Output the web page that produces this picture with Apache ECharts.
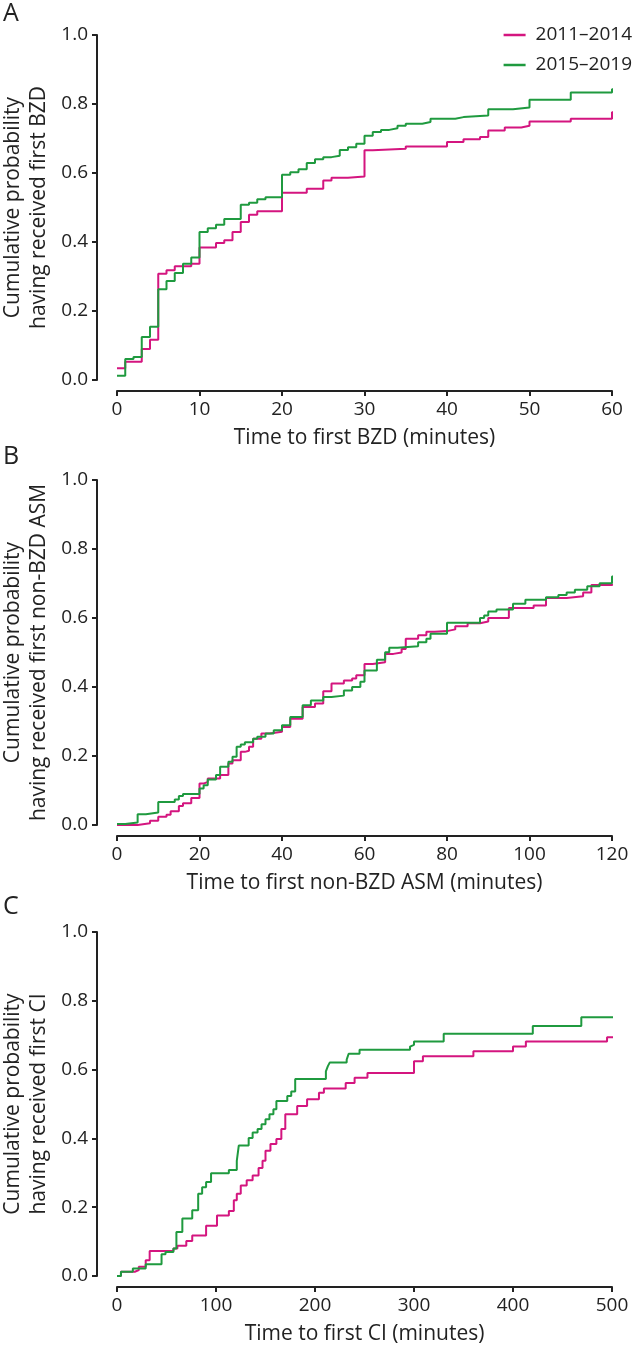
<!DOCTYPE html>
<html><head><meta charset="utf-8">
<script src="https://cdn.jsdelivr.net/npm/echarts@6/dist/echarts.min.js"></script>
<style>html,body{margin:0;padding:0;background:#fff}#c{width:634px;height:1347px}</style>
</head><body><div id="c"></div>
<script>
// ---------- DATA ----------
const seriesNames = ['2011–2014', '2015–2019'];
const panelLetters = ['A', 'B', 'C'];
const xAxisTitles = ['Time to first BZD (minutes)', 'Time to first non-BZD ASM (minutes)', 'Time to first CI (minutes)'];
const yAxisTitles = ['Cumulative probability\nhaving received first BZD',
                     'Cumulative probability\nhaving received first non-BZD ASM',
                     'Cumulative probability\nhaving received first CI'];
const xMaxes = [60, 120, 500];
const xIntervals = [10, 20, 100];
const yTicks = [0, 0.2, 0.4, 0.6, 0.8, 1.0];

// Panel A – time to first BZD
const aTime2011 = [0, 1, 3, 4, 5, 6, 7, 9, 10, 12, 13, 14, 15, 16, 17, 20, 23, 25, 26, 28, 30, 31, 35, 40, 42, 44, 45, 47, 49, 50, 55, 60, 61.2];
const aProb2011 = [0.034, 0.053, 0.09, 0.117, 0.308, 0.318, 0.33, 0.337, 0.384, 0.397, 0.405, 0.429, 0.458, 0.479, 0.489, 0.543, 0.554, 0.578, 0.586, 0.59, 0.666, 0.67, 0.677, 0.69, 0.698, 0.704, 0.723, 0.732, 0.737, 0.749, 0.757, 0.776, 0.776];
const aTime2015 = [0, 1, 2, 3, 4, 5, 6, 7, 8, 9, 10, 11, 12, 13, 15, 16, 17, 18, 20, 21, 22, 23, 24, 25, 26, 27, 28, 29, 30, 31, 32, 33, 34, 35, 37, 38, 41, 42, 45, 48, 50, 55, 60, 61.2];
const aProb2015 = [0.012, 0.061, 0.067, 0.125, 0.154, 0.263, 0.287, 0.31, 0.337, 0.355, 0.429, 0.44, 0.45, 0.467, 0.508, 0.514, 0.524, 0.53, 0.595, 0.602, 0.611, 0.629, 0.64, 0.646, 0.65, 0.667, 0.675, 0.685, 0.708, 0.719, 0.725, 0.73, 0.737, 0.743, 0.748, 0.757, 0.762, 0.767, 0.785, 0.79, 0.812, 0.833, 0.843, 0.843];

// Panel B – time to first non-BZD ASM
const bTime2011 = [0, 5, 8, 10, 12, 13, 15, 16, 18, 20, 21, 22, 25, 27, 28, 30, 31, 32, 33, 35, 37, 40, 42, 45, 48, 50, 52, 55, 57, 58, 60, 62, 65, 67, 69, 70, 73, 75, 77, 80, 82, 85, 88, 90, 95, 101, 104, 109, 113, 115, 120, 122.2];
const bProb2011 = [0.0, 0.005, 0.012, 0.024, 0.03, 0.04, 0.055, 0.063, 0.078, 0.12, 0.125, 0.135, 0.145, 0.178, 0.188, 0.212, 0.215, 0.227, 0.25, 0.265, 0.27, 0.284, 0.308, 0.342, 0.352, 0.388, 0.41, 0.419, 0.425, 0.434, 0.467, 0.472, 0.496, 0.5, 0.51, 0.54, 0.55, 0.56, 0.562, 0.567, 0.576, 0.585, 0.59, 0.6, 0.629, 0.636, 0.658, 0.663, 0.674, 0.696, 0.701, 0.701];
const bTime2015 = [0, 2, 5, 7, 10, 14, 15, 16, 20, 21, 22, 24, 25, 27, 28, 29, 30, 31, 33, 34, 36, 38, 40, 42, 45, 47, 50, 52, 55, 57, 59, 60, 63, 65, 66, 68, 73, 75, 76, 80, 88, 89, 90, 92, 96, 99, 104, 107, 109, 111, 114, 117, 120, 122.2];
const bProb2015 = [0.003, 0.007, 0.031, 0.036, 0.067, 0.074, 0.084, 0.09, 0.106, 0.115, 0.132, 0.145, 0.169, 0.183, 0.198, 0.227, 0.233, 0.24, 0.25, 0.256, 0.265, 0.275, 0.289, 0.313, 0.347, 0.361, 0.371, 0.375, 0.39, 0.4, 0.415, 0.448, 0.479, 0.501, 0.514, 0.518, 0.53, 0.54, 0.554, 0.586, 0.6, 0.607, 0.619, 0.625, 0.641, 0.653, 0.66, 0.667, 0.674, 0.682, 0.692, 0.701, 0.72, 0.72];

// Panel C – time to first CI
const cTime2011 = [0, 4, 18, 22, 29, 33, 57, 61, 70, 76, 90, 101, 113, 118, 121, 125, 131, 137, 143, 147, 150, 155, 161, 166, 170, 182, 192, 204, 209, 231, 240, 253, 300, 309, 360, 400, 413, 495, 509, 518, 519];
const cProb2011 = [0.0, 0.0125, 0.017, 0.027, 0.046, 0.073, 0.08, 0.088, 0.102, 0.118, 0.146, 0.176, 0.189, 0.22, 0.239, 0.263, 0.278, 0.292, 0.314, 0.335, 0.364, 0.384, 0.398, 0.427, 0.47, 0.494, 0.514, 0.533, 0.545, 0.561, 0.576, 0.59, 0.624, 0.639, 0.653, 0.667, 0.682, 0.694, 0.711, 0.723, 0.723];
const cTime2015 = [0, 4, 16, 29, 45, 49, 57, 60, 66, 76, 82, 86, 90, 95, 113, 121, 123, 133, 137, 142, 146, 150, 154, 158, 161, 172, 176, 180, 211, 213, 215, 232, 234, 245, 296, 298, 300, 330, 420, 469, 519];
const cProb2015 = [0.0, 0.0125, 0.022, 0.034, 0.063, 0.07, 0.08, 0.128, 0.167, 0.191, 0.239, 0.258, 0.273, 0.299, 0.308, 0.335, 0.379, 0.401, 0.417, 0.427, 0.441, 0.456, 0.47, 0.485, 0.509, 0.523, 0.536, 0.573, 0.595, 0.61, 0.621, 0.629, 0.646, 0.658, 0.667, 0.672, 0.682, 0.704, 0.727, 0.752, 0.752];

// ---------- CHART ----------
const FONT = 'Open Sans';
const INK = '#222';
const COLORS = ['#d4157f', '#1f9a3f'];
const gridTops = [35, 480, 932];
const gridHeights = [345, 345, 344];
const letterTops = [1, 444, 894];

const panels = [
  [[aTime2011, aProb2011], [aTime2015, aProb2015]],
  [[bTime2011, bProb2011], [bTime2015, bProb2015]],
  [[cTime2011, cProb2011], [cTime2015, cProb2015]]
];
const zip = (t, p) => t.map((x, i) => [x, p[i]]);

const grids = [], xAxes = [], yAxes = [], series = [], graphics = [];
panels.forEach((pan, k) => {
  grids.push({left: 117, width: 495, top: gridTops[k], height: gridHeights[k],
    containLabel: false, outerBoundsMode: 'none'});
  xAxes.push({
    gridIndex: k, type: 'value', min: 0, max: xMaxes[k], interval: xIntervals[k], offset: 11,
    axisLine: {show: true, onZero: false, lineStyle: {color: INK, width: 2}},
    axisTick: {show: true, inside: false, length: 5, lineStyle: {color: INK, width: 2}},
    axisLabel: {fontSize: 19, color: INK, fontFamily: FONT, margin: 9},
    splitLine: {show: false},
    name: xAxisTitles[k], nameLocation: 'middle', nameGap: 37, nameMoveOverlap: false,
    nameTextStyle: {fontSize: 21, color: INK, fontFamily: FONT}
  });
  yAxes.push({
    gridIndex: k, type: 'value', min: 0, max: 1, interval: 0.2, offset: 20,
    axisLine: {show: true, onZero: false, lineStyle: {color: INK, width: 2}},
    axisTick: {show: true, inside: false, length: 5, lineStyle: {color: INK, width: 2}},
    axisLabel: {fontSize: 19, color: INK, fontFamily: FONT, margin: 9, formatter: v => v.toFixed(1)},
    splitLine: {show: false},
    name: yAxisTitles[k], nameLocation: 'middle', nameRotate: 90, nameGap: 45, nameMoveOverlap: false,
    nameTextStyle: {fontSize: 21, color: INK, fontFamily: FONT, lineHeight: 26, align: 'center'}
  });
  pan.forEach((s, j) => {
    series.push({
      name: seriesNames[j], type: 'line', step: 'end',
      xAxisIndex: k, yAxisIndex: k,
      data: zip(s[0], s[1]),
      showSymbol: false, symbol: 'none', clip: false,
      lineStyle: {color: COLORS[j], width: 2},
      itemStyle: {color: COLORS[j]},
      animation: false, silent: true
    });
  });
  graphics.push({type: 'text', left: 3, top: letterTops[k],
    style: {text: panelLetters[k], fontSize: 25, fill: INK, fontFamily: FONT}});
});

const chart = echarts.init(document.getElementById('c'), null, {renderer: 'canvas'});
chart.setOption({
  backgroundColor: '#fff',
  animation: false,
  grid: grids, xAxis: xAxes, yAxis: yAxes, series: series,
  graphic: graphics,
  legend: {
    data: seriesNames, orient: 'vertical', right: 2, top: 25, padding: 0,
    icon: 'rect', itemWidth: 22, itemHeight: 2.5, itemGap: 10,
    textStyle: {fontSize: 19, color: INK, fontFamily: FONT, lineHeight: 20, padding: [0, 0, 0, 5]}
  }
});
</script></body></html>
